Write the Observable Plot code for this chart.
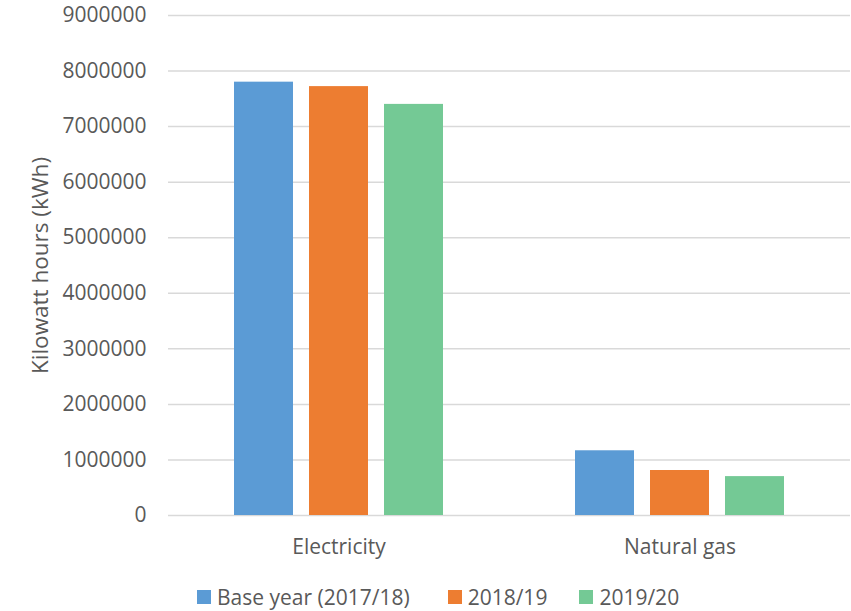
<!DOCTYPE html>
<html>
<head>
<meta charset="utf-8">
<script src="https://cdn.jsdelivr.net/npm/d3@7"></script>
<script src="https://cdn.jsdelivr.net/npm/@observablehq/plot@0.6"></script>
<style>
  html, body { margin: 0; padding: 0; background: #fff; }
  body { width: 851px; height: 611px; overflow: hidden; font-family: "Open Sans", sans-serif; }
  #legend { position: absolute; left: 197px; top: 584px; display: flex; align-items: center; font-size: 21px; color: #595959; line-height: 26px; }
  #legend .item { display: flex; align-items: center; }
  #legend .sw { width: 14px; height: 14px; margin-right: 6px; }
</style>
</head>
<body>
<div id="chart"></div>
<div id="legend"></div>
<script>
const categories = ["Electricity", "Natural gas"];
const seriesNames = ["Base year (2017/18)", "2018/19", "2019/20"];
const seriesColors = ["#5B9BD5", "#ED7D31", "#74C995"];
const baseYear = [7800000, 1165000];
const y2018 = [7720000, 810000];
const y2019 = [7400000, 700000];
const yTicks = [0, 1000000, 2000000, 3000000, 4000000, 5000000, 6000000, 7000000, 8000000, 9000000];

const seriesValues = [baseYear, y2018, y2019];
const data = [];
categories.forEach((c, i) => {
  seriesNames.forEach((s, j) => data.push({category: c, series: s, value: seriesValues[j][i]}));
});

const chart = Plot.plot({
  width: 851,
  height: 570,
  marginLeft: 168,
  marginRight: 1,
  marginTop: 15,
  marginBottom: 55,
  style: {fontFamily: "'Open Sans', sans-serif", fontSize: "21px", color: "#595959", background: "#fff"},
  fx: {domain: categories, padding: 0},
  x: {domain: seriesNames, paddingInner: 0.21, paddingOuter: 0.85, axis: null},
  y: {domain: [0, 9000000], ticks: yTicks},
  color: {domain: seriesNames, range: seriesColors},
  marks: [
    Plot.gridY(yTicks, {stroke: "#d9d9d9", strokeOpacity: 1, strokeWidth: 1.5}),
    Plot.barY(data, {fx: "category", x: "series", y: "value", fill: "series"}),
    Plot.axisY(yTicks, {tickSize: 0, tickPadding: 22, tickFormat: d => String(d), fill: "#595959", fontSize: 21, label: null}),
    Plot.axisY([], {tickSize: 0, fill: "#595959", fontSize: 22.5,
      label: "Kilowatt hours (kWh)", labelAnchor: "center", labelArrow: "none", labelOffset: 136}),
    Plot.axisFx({anchor: "bottom", tickSize: 0, tickPadding: 24, fill: "#595959", fontSize: 21, label: null})
  ]
});
document.getElementById("chart").appendChild(chart);

const legend = document.getElementById("legend");
seriesNames.forEach((s, i) => {
  const item = document.createElement("div");
  item.className = "item";
  item.style.marginRight = i === 0 ? "38px" : "32px";
  const sw = document.createElement("span");
  sw.className = "sw";
  sw.style.background = seriesColors[i];
  const t = document.createElement("span");
  t.textContent = s;
  item.appendChild(sw);
  item.appendChild(t);
  legend.appendChild(item);
});
</script>
</body>
</html>
